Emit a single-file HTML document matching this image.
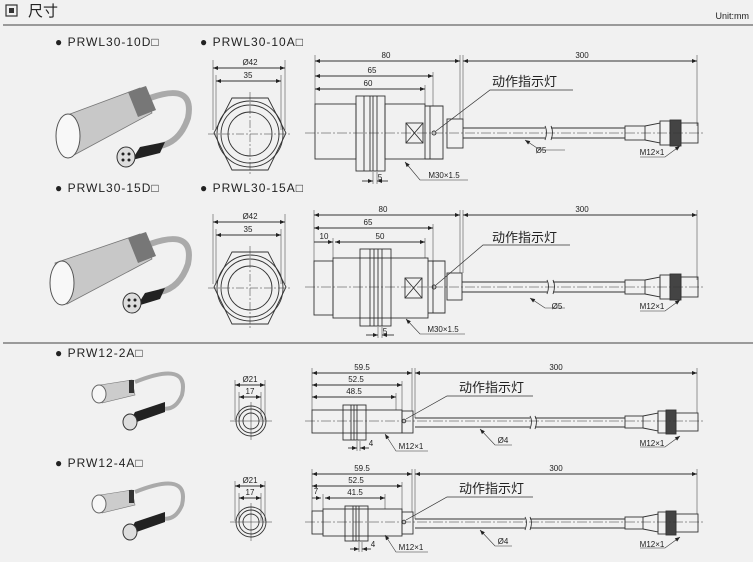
<!DOCTYPE html>
<html><head><meta charset="utf-8"><style>
html,body{margin:0;padding:0;background:#f1f1f1;}
svg{display:block;}
text{font-family:"Liberation Sans","Noto Sans CJK SC",sans-serif;fill:#222;}
.d{font-size:8px;text-anchor:middle;}
.l{font-size:12px;letter-spacing:1px;}
</style></head><body>
<svg width="753" height="562" viewBox="0 0 753 562" xmlns="http://www.w3.org/2000/svg">
<defs>
<marker id="a" viewBox="0 0 10 10" refX="10" refY="5" markerWidth="7" markerHeight="5" orient="auto-start-reverse" markerUnits="userSpaceOnUse"><path d="M0,1 L10,5 L0,9z" fill="#222"/></marker>
</defs>
<rect width="753" height="562" fill="#f1f1f1"/>
<rect x="6" y="5" width="11" height="11" fill="none" stroke="#333" stroke-width="1.2"/>
<rect x="9" y="8" width="5" height="5" fill="#333"/>
<text x="28" y="16" style="font-size:15px">尺寸</text>
<text x="749" y="19" style="font-size:9px;text-anchor:end">Unit:mm</text>
<line x1="3" y1="25" x2="753" y2="25" stroke="#666" stroke-width="1.2"/>
<line x1="3" y1="343" x2="753" y2="343" stroke="#666" stroke-width="1.2"/>

<g class="l">
<text x="55" y="46" class="l">● PRWL30-10D□</text>
<text x="200" y="46" class="l">● PRWL30-10A□</text>
<text x="55" y="192" class="l">● PRWL30-15D□</text>
<text x="200" y="192" class="l">● PRWL30-15A□</text>
<text x="55" y="357" class="l">● PRW12-2A□</text>
<text x="55" y="467" class="l">● PRW12-4A□</text>
</g>

<!-- big photos -->
<g>
<path d="M150,98 Q195,82 188,118 Q180,142 160,146" fill="none" stroke="#aaa" stroke-width="6"/>
<path d="M165,142 L140,147 L132,160 L160,153 Z" fill="#222"/>
<path d="M62,117 L140,88 L152,113 L74,155 Z" fill="#c8c8c8" stroke="#777" stroke-width="0.8"/>
<path d="M128,92 L146,86 L156,110 L138,117 Z" fill="#777"/>
<ellipse cx="68" cy="136" rx="12" ry="22" fill="#f8f8f8" stroke="#555"/>
<ellipse cx="126" cy="157" rx="9" ry="10" fill="#ddd" stroke="#333"/>
<circle cx="123" cy="154" r="1.5" fill="#222"/><circle cx="129" cy="154" r="1.5" fill="#222"/><circle cx="123" cy="160" r="1.5" fill="#222"/><circle cx="129" cy="160" r="1.5" fill="#222"/>
</g>
<g transform="translate(0,146)">
<path d="M150,98 Q195,82 188,118 Q180,142 160,146" fill="none" stroke="#aaa" stroke-width="6"/>
<path d="M165,142 L145,147 L137,160 L160,153 Z" fill="#222"/>
<path d="M55,117 L140,88 L152,113 L67,158 Z" fill="#c8c8c8" stroke="#777" stroke-width="0.8"/>
<path d="M128,92 L146,86 L156,110 L138,117 Z" fill="#777"/>
<ellipse cx="62" cy="137" rx="12" ry="22" fill="#f8f8f8" stroke="#555"/>
<ellipse cx="132" cy="157" rx="9" ry="10" fill="#ddd" stroke="#333"/>
<circle cx="129" cy="154" r="1.5" fill="#222"/><circle cx="135" cy="154" r="1.5" fill="#222"/><circle cx="129" cy="160" r="1.5" fill="#222"/><circle cx="135" cy="160" r="1.5" fill="#222"/>
</g>
<!-- small photos -->
<g>
<path d="M135,382 Q190,360 182,395 Q175,412 160,408" fill="none" stroke="#aaa" stroke-width="4"/>
<path d="M100,385 L132,380 L135,395 L102,403 Z" fill="#ccc" stroke="#777" stroke-width="0.6"/>
<rect x="129" y="380" width="5" height="13" fill="#333"/>
<ellipse cx="99" cy="394" rx="7" ry="9" fill="#f7f7f7" stroke="#666"/>
<path d="M165,402 L135,412 L128,425 L165,412 Z" fill="#222"/>
<ellipse cx="130" cy="422" rx="7" ry="8" fill="#ddd" stroke="#333"/>
</g>
<g transform="translate(0,110)">
<path d="M135,382 Q190,360 182,395 Q175,412 160,408" fill="none" stroke="#aaa" stroke-width="4"/>
<path d="M100,385 L132,380 L135,395 L102,403 Z" fill="#ccc" stroke="#777" stroke-width="0.6"/>
<rect x="129" y="380" width="5" height="13" fill="#333"/>
<ellipse cx="99" cy="394" rx="7" ry="9" fill="#f7f7f7" stroke="#666"/>
<path d="M165,402 L135,412 L128,425 L165,412 Z" fill="#222"/>
<ellipse cx="130" cy="422" rx="7" ry="8" fill="#ddd" stroke="#333"/>
</g>

<g fill="none" stroke="#333" stroke-width="0.9">
<g>
<line x1="213" y1="60" x2="213" y2="130" stroke-width="0.5"/><line x1="285" y1="60" x2="285" y2="130" stroke-width="0.5"/>
<line x1="216" y1="75" x2="216" y2="130" stroke-width="0.5"/><line x1="281" y1="75" x2="281" y2="130" stroke-width="0.5"/>
<line x1="213" y1="68" x2="285" y2="68" marker-start="url(#a)" marker-end="url(#a)"/>
<line x1="216" y1="81" x2="281" y2="81" marker-start="url(#a)" marker-end="url(#a)"/>
<path d="M232,98 L268,98 L286,133 L268,170 L232,170 L214,133 Z"/>
<circle cx="250" cy="134" r="33"/>
<circle cx="250" cy="134" r="29"/>
<circle cx="250" cy="134" r="22"/>
<line x1="208" y1="134" x2="292" y2="134" stroke-width="0.5" stroke-dasharray="8,2,2,2"/>
<line x1="250" y1="92" x2="250" y2="176" stroke-width="0.5" stroke-dasharray="8,2,2,2"/>
</g>
<g transform="translate(0,154)">
<line x1="213" y1="60" x2="213" y2="130" stroke-width="0.5"/><line x1="285" y1="60" x2="285" y2="130" stroke-width="0.5"/>
<line x1="216" y1="75" x2="216" y2="130" stroke-width="0.5"/><line x1="281" y1="75" x2="281" y2="130" stroke-width="0.5"/>
<line x1="213" y1="68" x2="285" y2="68" marker-start="url(#a)" marker-end="url(#a)"/>
<line x1="216" y1="81" x2="281" y2="81" marker-start="url(#a)" marker-end="url(#a)"/>
<path d="M232,98 L268,98 L286,133 L268,170 L232,170 L214,133 Z"/>
<circle cx="250" cy="134" r="33"/>
<circle cx="250" cy="134" r="29"/>
<circle cx="250" cy="134" r="22"/>
<line x1="208" y1="134" x2="292" y2="134" stroke-width="0.5" stroke-dasharray="8,2,2,2"/>
<line x1="250" y1="92" x2="250" y2="176" stroke-width="0.5" stroke-dasharray="8,2,2,2"/>
</g>
<g>
<line x1="235" y1="380" x2="235" y2="420" stroke-width="0.5"/><line x1="265" y1="380" x2="265" y2="420" stroke-width="0.5"/>
<line x1="239" y1="392" x2="239" y2="420" stroke-width="0.5"/><line x1="261" y1="392" x2="261" y2="420" stroke-width="0.5"/>
<line x1="235" y1="385" x2="265" y2="385" marker-start="url(#a)" marker-end="url(#a)"/>
<line x1="239" y1="397" x2="261" y2="397" marker-start="url(#a)" marker-end="url(#a)"/>
<circle cx="251" cy="421" r="15"/><circle cx="251" cy="421" r="12"/><circle cx="251" cy="421" r="8"/>
<line x1="230" y1="421" x2="272" y2="421" stroke-width="0.5"/><line x1="251" y1="402" x2="251" y2="440" stroke-width="0.5"/>
</g>
<g transform="translate(0,101)">
<line x1="235" y1="380" x2="235" y2="420" stroke-width="0.5"/><line x1="265" y1="380" x2="265" y2="420" stroke-width="0.5"/>
<line x1="239" y1="392" x2="239" y2="420" stroke-width="0.5"/><line x1="261" y1="392" x2="261" y2="420" stroke-width="0.5"/>
<line x1="235" y1="385" x2="265" y2="385" marker-start="url(#a)" marker-end="url(#a)"/>
<line x1="239" y1="397" x2="261" y2="397" marker-start="url(#a)" marker-end="url(#a)"/>
<circle cx="251" cy="421" r="15"/><circle cx="251" cy="421" r="12"/><circle cx="251" cy="421" r="8"/>
<line x1="230" y1="421" x2="272" y2="421" stroke-width="0.5"/><line x1="251" y1="402" x2="251" y2="440" stroke-width="0.5"/>
</g>

<g>
<rect x="315" y="104" width="41" height="55"/>
<rect x="356" y="96" width="29" height="75"/>
<line x1="364" y1="96" x2="364" y2="171"/><line x1="370" y1="96" x2="370" y2="171"/><line x1="373" y1="96" x2="373" y2="171"/><line x1="377" y1="96" x2="377" y2="171"/>
<rect x="385" y="104" width="40" height="55"/>
<rect x="406" y="123" width="17" height="20"/><path d="M406,123 L423,143 M423,123 L406,143"/>
<path d="M425,106 L443,106 L443,159 L425,159"/><line x1="430" y1="106" x2="430" y2="159"/>
<rect x="447" y="119" width="16" height="29"/>
<circle cx="434" cy="133" r="2"/>
<path d="M463,128 L545,128 M551,128 L625,128 M463,138 L545,138 M551,138 L625,138"/>
<path d="M545,126 q3,6 0,14 M551,126 q3,6 0,14"/>
<rect x="625" y="126" width="20" height="14"/><path d="M645,126 L660,123 L660,143 L645,140"/>
<rect x="660" y="121" width="10" height="24"/><rect x="670" y="120" width="11" height="26" fill="#444"/>
<rect x="681" y="123" width="17" height="20"/>
<line x1="305" y1="133" x2="705" y2="133" stroke-width="0.5" stroke-dasharray="10,2,2,2"/>
<g stroke-width="0.5"><line x1="315" y1="55" x2="315" y2="104"/><line x1="460" y1="55" x2="460" y2="119"/><line x1="463" y1="55" x2="463" y2="119"/><line x1="697" y1="55" x2="697" y2="126"/><line x1="433" y1="72" x2="433" y2="106"/><line x1="425" y1="85" x2="425" y2="104"/></g>
<line x1="315" y1="61" x2="460" y2="61" marker-start="url(#a)" marker-end="url(#a)"/>
<line x1="463" y1="61" x2="697" y2="61" marker-start="url(#a)" marker-end="url(#a)"/>
<line x1="315" y1="76" x2="433" y2="76" marker-start="url(#a)" marker-end="url(#a)"/>
<line x1="315" y1="89" x2="425" y2="89" marker-start="url(#a)" marker-end="url(#a)"/>
<path d="M573,90 L490,90 L436,131" stroke-width="0.7"/>
<path d="M565,150 L540,150 L525,140" stroke-width="0.6" marker-end="url(#a)"/>
<path d="M640,157 L665,157 L680,146" stroke-width="0.6" marker-end="url(#a)"/>
<path d="M468,180 L420,180 L405,162" stroke-width="0.6" marker-end="url(#a)"/>
<line x1="373" y1="172" x2="373" y2="184" stroke-width="0.5"/><line x1="377" y1="172" x2="377" y2="184" stroke-width="0.5"/>
<line x1="362" y1="181" x2="373" y2="181" marker-end="url(#a)"/><line x1="388" y1="181" x2="377" y2="181" marker-end="url(#a)"/>
</g>

<g>
<rect x="314" y="261" width="19" height="54"/>
<rect x="333" y="258" width="95" height="60"/>
<rect x="360" y="249" width="31" height="77"/>
<line x1="370" y1="249" x2="370" y2="326"/><line x1="374" y1="249" x2="374" y2="326"/><line x1="378" y1="249" x2="378" y2="326"/><line x1="382" y1="249" x2="382" y2="326"/>
<rect x="405" y="278" width="17" height="20"/><path d="M405,278 L422,298 M422,278 L405,298"/>
<path d="M428,261 L445,261 L445,313 L428,313"/><line x1="433" y1="261" x2="433" y2="313"/>
<rect x="447" y="273" width="15" height="27"/>
<circle cx="434" cy="287" r="2"/>
<path d="M462,282 L547,282 M553,282 L625,282 M462,292 L547,292 M553,292 L625,292"/>
<path d="M547,280 q3,6 0,14 M553,280 q3,6 0,14"/>
<rect x="625" y="280" width="20" height="14"/><path d="M645,280 L660,277 L660,297 L645,294"/>
<rect x="660" y="275" width="10" height="24"/><rect x="670" y="274" width="11" height="26" fill="#444"/>
<rect x="681" y="277" width="17" height="20"/>
<line x1="305" y1="287" x2="705" y2="287" stroke-width="0.5" stroke-dasharray="10,2,2,2"/>
<g stroke-width="0.5"><line x1="314" y1="210" x2="314" y2="261"/><line x1="460" y1="210" x2="460" y2="273"/><line x1="463" y1="210" x2="463" y2="273"/><line x1="697" y1="210" x2="697" y2="280"/><line x1="433" y1="224" x2="433" y2="261"/><line x1="425" y1="238" x2="425" y2="258"/><line x1="333" y1="238" x2="333" y2="258"/></g>
<line x1="314" y1="215" x2="460" y2="215" marker-start="url(#a)" marker-end="url(#a)"/>
<line x1="463" y1="215" x2="697" y2="215" marker-start="url(#a)" marker-end="url(#a)"/>
<line x1="314" y1="228" x2="433" y2="228" marker-start="url(#a)" marker-end="url(#a)"/>
<line x1="314" y1="242" x2="333" y2="242" marker-end="url(#a)"/>
<line x1="335" y1="242" x2="425" y2="242" marker-start="url(#a)" marker-end="url(#a)"/>
<path d="M570,245 L483,245 L436,285" stroke-width="0.7"/>
<path d="M565,308 L545,308 L530,298" stroke-width="0.6" marker-end="url(#a)"/>
<path d="M640,311 L665,311 L680,300" stroke-width="0.6" marker-end="url(#a)"/>
<path d="M465,334 L420,334 L406,319" stroke-width="0.6" marker-end="url(#a)"/>
<line x1="378" y1="327" x2="378" y2="338" stroke-width="0.5"/><line x1="382" y1="327" x2="382" y2="338" stroke-width="0.5"/>
<line x1="366" y1="335" x2="378" y2="335" marker-end="url(#a)"/><line x1="394" y1="335" x2="382" y2="335" marker-end="url(#a)"/>
</g>

<g>
<rect x="312" y="410" width="90" height="23"/>
<rect x="343" y="405" width="23" height="35"/>
<line x1="351" y1="405" x2="351" y2="440"/><line x1="354" y1="405" x2="354" y2="440"/><line x1="357" y1="405" x2="357" y2="440"/>
<rect x="402" y="411" width="11" height="22"/>
<circle cx="404" cy="421" r="1.8"/>
<path d="M415,418 L530,418 M535,418 L625,418 M415,427 L530,427 M535,427 L625,427"/>
<path d="M530,416 q3,5 0,13 M535,416 q3,5 0,13"/>
<rect x="625" y="416" width="18" height="12"/><path d="M643,416 L658,413 L658,431 L643,428"/>
<rect x="658" y="411" width="8" height="22"/><rect x="666" y="410" width="10" height="24" fill="#444"/>
<rect x="676" y="413" width="22" height="18"/>
<line x1="305" y1="421" x2="705" y2="421" stroke-width="0.5" stroke-dasharray="10,2,2,2"/>
<g stroke-width="0.5"><line x1="312" y1="368" x2="312" y2="410"/><line x1="412" y1="368" x2="412" y2="411"/><line x1="415" y1="368" x2="415" y2="418"/><line x1="697" y1="368" x2="697" y2="413"/><line x1="402" y1="381" x2="402" y2="411"/><line x1="396" y1="393" x2="396" y2="410"/></g>
<line x1="312" y1="373" x2="412" y2="373" marker-start="url(#a)" marker-end="url(#a)"/>
<line x1="415" y1="373" x2="697" y2="373" marker-start="url(#a)" marker-end="url(#a)"/>
<line x1="312" y1="385" x2="402" y2="385" marker-start="url(#a)" marker-end="url(#a)"/>
<line x1="312" y1="397" x2="396" y2="397" marker-start="url(#a)" marker-end="url(#a)"/>
<path d="M533,396 L447,396 L406,419" stroke-width="0.7"/>
<path d="M512,445 L495,445 L480,429" stroke-width="0.6" marker-end="url(#a)"/>
<path d="M640,447 L665,447 L680,436" stroke-width="0.6" marker-end="url(#a)"/>
<path d="M428,451 L396,451 L385,434" stroke-width="0.6" marker-end="url(#a)"/>
<line x1="357" y1="441" x2="357" y2="451" stroke-width="0.5"/><line x1="360" y1="441" x2="360" y2="451" stroke-width="0.5"/>
<line x1="348" y1="448" x2="357" y2="448" marker-end="url(#a)"/><line x1="369" y1="448" x2="360" y2="448" marker-end="url(#a)"/>
</g>
<g transform="translate(0,101)">
<rect x="312" y="410" width="11" height="23"/>
<rect x="323" y="408" width="79" height="27"/>
<rect x="345" y="405" width="23" height="35"/>
<line x1="353" y1="405" x2="353" y2="440"/><line x1="356" y1="405" x2="356" y2="440"/><line x1="359" y1="405" x2="359" y2="440"/>
<rect x="402" y="411" width="11" height="22"/>
<circle cx="404" cy="421" r="1.8"/>
<path d="M415,418 L525,418 M530,418 L625,418 M415,427 L525,427 M530,427 L625,427"/>
<path d="M525,416 q3,5 0,13 M530,416 q3,5 0,13"/>
<rect x="625" y="416" width="18" height="12"/><path d="M643,416 L658,413 L658,431 L643,428"/>
<rect x="658" y="411" width="8" height="22"/><rect x="666" y="410" width="10" height="24" fill="#444"/>
<rect x="676" y="413" width="22" height="18"/>
<line x1="305" y1="421" x2="705" y2="421" stroke-width="0.5" stroke-dasharray="10,2,2,2"/>
<g stroke-width="0.5"><line x1="312" y1="368" x2="312" y2="410"/><line x1="412" y1="368" x2="412" y2="411"/><line x1="415" y1="368" x2="415" y2="418"/><line x1="697" y1="368" x2="697" y2="413"/><line x1="402" y1="381" x2="402" y2="411"/><line x1="385" y1="393" x2="385" y2="408"/><line x1="323" y1="393" x2="323" y2="408"/></g>
<line x1="312" y1="373" x2="412" y2="373" marker-start="url(#a)" marker-end="url(#a)"/>
<line x1="415" y1="373" x2="697" y2="373" marker-start="url(#a)" marker-end="url(#a)"/>
<line x1="312" y1="385" x2="402" y2="385" marker-start="url(#a)" marker-end="url(#a)"/>
<line x1="312" y1="397" x2="321" y2="397" marker-end="url(#a)"/>
<line x1="325" y1="397" x2="385" y2="397" marker-start="url(#a)" marker-end="url(#a)"/>
<path d="M533,396 L447,396 L406,419" stroke-width="0.7"/>
<path d="M512,445 L495,445 L480,429" stroke-width="0.6" marker-end="url(#a)"/>
<path d="M640,447 L665,447 L680,436" stroke-width="0.6" marker-end="url(#a)"/>
<path d="M428,451 L396,451 L385,434" stroke-width="0.6" marker-end="url(#a)"/>
<line x1="359" y1="441" x2="359" y2="451" stroke-width="0.5"/><line x1="362" y1="441" x2="362" y2="451" stroke-width="0.5"/>
<line x1="350" y1="448" x2="359" y2="448" marker-end="url(#a)"/><line x1="371" y1="448" x2="362" y2="448" marker-end="url(#a)"/>
</g>
</g>

<g class="d">
<text x="250" y="65" class="d">Ø42</text><text x="248" y="78" class="d">35</text>
<text x="250" y="219" class="d">Ø42</text><text x="248" y="232" class="d">35</text>
<text x="250" y="382" class="d">Ø21</text><text x="250" y="394" class="d">17</text>
<text x="250" y="483" class="d">Ø21</text><text x="250" y="495" class="d">17</text>
<text x="386" y="58" class="d">80</text><text x="582" y="58" class="d">300</text>
<text x="372" y="73" class="d">65</text><text x="368" y="86" class="d">60</text>
<text x="541" y="153" class="d">Ø5</text><text x="652" y="155" class="d">M12×1</text>
<text x="444" y="178" class="d">M30×1.5</text><text x="380" y="180" class="d">5</text>
<text x="383" y="212" class="d">80</text><text x="582" y="212" class="d">300</text>
<text x="368" y="225" class="d">65</text><text x="324" y="239" class="d">10</text><text x="380" y="239" class="d">50</text>
<text x="557" y="309" class="d">Ø5</text><text x="652" y="309" class="d">M12×1</text>
<text x="443" y="332" class="d">M30×1.5</text><text x="385" y="334" class="d">5</text>
<text x="362" y="370" class="d">59.5</text><text x="556" y="370" class="d">300</text>
<text x="356" y="382" class="d">52.5</text><text x="354" y="394" class="d">48.5</text>
<text x="503" y="443" class="d">Ø4</text><text x="652" y="446" class="d">M12×1</text>
<text x="411" y="449" class="d">M12×1</text><text x="371" y="446" class="d">4</text>
<text x="362" y="471" class="d">59.5</text><text x="556" y="471" class="d">300</text>
<text x="356" y="483" class="d">52.5</text><text x="316" y="494" class="d">7</text><text x="355" y="495" class="d">41.5</text>
<text x="503" y="544" class="d">Ø4</text><text x="652" y="547" class="d">M12×1</text>
<text x="411" y="550" class="d">M12×1</text><text x="373" y="547" class="d">4</text>
</g>
<g style="font-size:13px">
<text x="492" y="86">动作指示灯</text>
<text x="492" y="242">动作指示灯</text>
<text x="459" y="392">动作指示灯</text>
<text x="459" y="493">动作指示灯</text>
</g>
</svg>
</body></html>
